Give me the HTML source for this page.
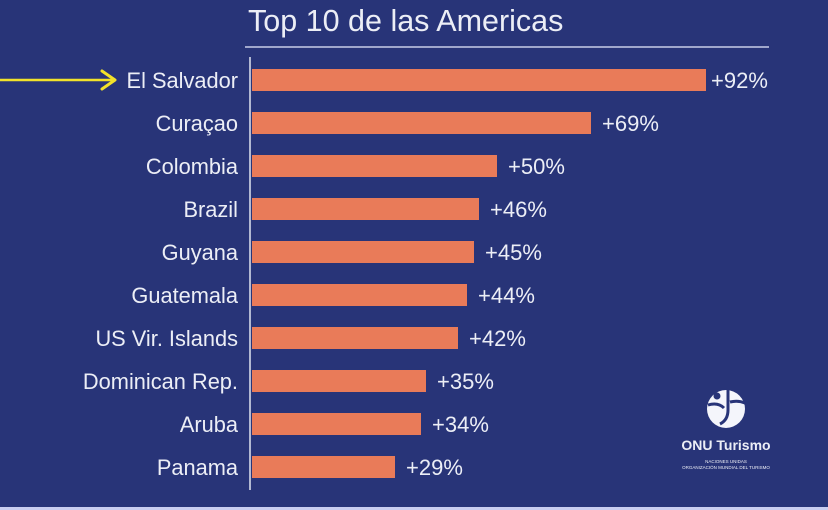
<!DOCTYPE html>
<html><head><meta charset="utf-8"><style>
html,body{margin:0;padding:0;background:#283478;}
svg{display:block}
text{font-family:"Liberation Sans",Arial,sans-serif;fill:#eceef6}
</style></head><body>
<svg width="828" height="510" viewBox="0 0 828 510" xmlns="http://www.w3.org/2000/svg">
<rect width="828" height="510" fill="#283478"/>
<rect y="507" width="828" height="3" fill="#c9cdf0"/>
<text x="248" y="31" font-size="30.5" fill="#e3e6f2">Top 10 de las Americas</text>
<line x1="245" y1="47" x2="769" y2="47" stroke="#c8cde8" stroke-width="1.5"/>
<line x1="250" y1="57" x2="250" y2="490" stroke="#e0e3f0" stroke-width="1.5"/>
<line x1="0" y1="80" x2="114" y2="80" stroke="#f2e22a" stroke-width="2.5"/>
<polyline points="102,71 115,80 102,89" fill="none" stroke="#f2e22a" stroke-width="3" stroke-linejoin="round" stroke-linecap="round"/>
<g fill="#e97b59">
<rect x="252" y="69" width="454" height="22"/>
<rect x="252" y="112" width="339" height="22"/>
<rect x="252" y="155" width="245" height="22"/>
<rect x="252" y="198" width="227" height="22"/>
<rect x="252" y="241" width="222" height="22"/>
<rect x="252" y="284" width="215" height="22"/>
<rect x="252" y="327" width="206" height="22"/>
<rect x="252" y="370" width="174" height="22"/>
<rect x="252" y="413" width="169" height="22"/>
<rect x="252" y="456" width="143" height="22"/>
</g>
<g font-size="21.8" text-anchor="end">
<text x="238" y="88">El Salvador</text>
<text x="238" y="131">Curaçao</text>
<text x="238" y="174">Colombia</text>
<text x="238" y="217">Brazil</text>
<text x="238" y="260">Guyana</text>
<text x="238" y="303">Guatemala</text>
<text x="238" y="346">US Vir. Islands</text>
<text x="238" y="389">Dominican Rep.</text>
<text x="238" y="432">Aruba</text>
<text x="238" y="475">Panama</text>
</g>
<g font-size="22">
<text x="711" y="88">+92%</text>
<text x="602" y="131">+69%</text>
<text x="508" y="174">+50%</text>
<text x="490" y="217">+46%</text>
<text x="485" y="260">+45%</text>
<text x="478" y="303">+44%</text>
<text x="469" y="346">+42%</text>
<text x="437" y="389">+35%</text>
<text x="432" y="432">+34%</text>
<text x="406" y="475">+29%</text>
</g>
<circle cx="726" cy="409" r="19" fill="#f4f5fb"/>
<path d="M728 390 L728 410 Q728 420 720 424" stroke="#283478" stroke-width="3" fill="none"/>
<path d="M708 405 Q718 402 724 408" stroke="#283478" stroke-width="3" fill="none"/>
<path d="M730 402 Q738 400 745 403" stroke="#283478" stroke-width="3" fill="none"/>
<circle cx="717" cy="396" r="3.5" fill="#283478"/>
<text x="726" y="450" font-size="14" text-anchor="middle" font-weight="bold" fill="#f4f5fb">ONU Turismo</text>
<text x="726" y="463" font-size="4.5" text-anchor="middle" fill="#b9bff0">NACIONES UNIDAS</text>
<text x="726" y="469" font-size="4.5" text-anchor="middle" fill="#b9bff0">ORGANIZACIÓN MUNDIAL DEL TURISMO</text>
</svg>
</body></html>
